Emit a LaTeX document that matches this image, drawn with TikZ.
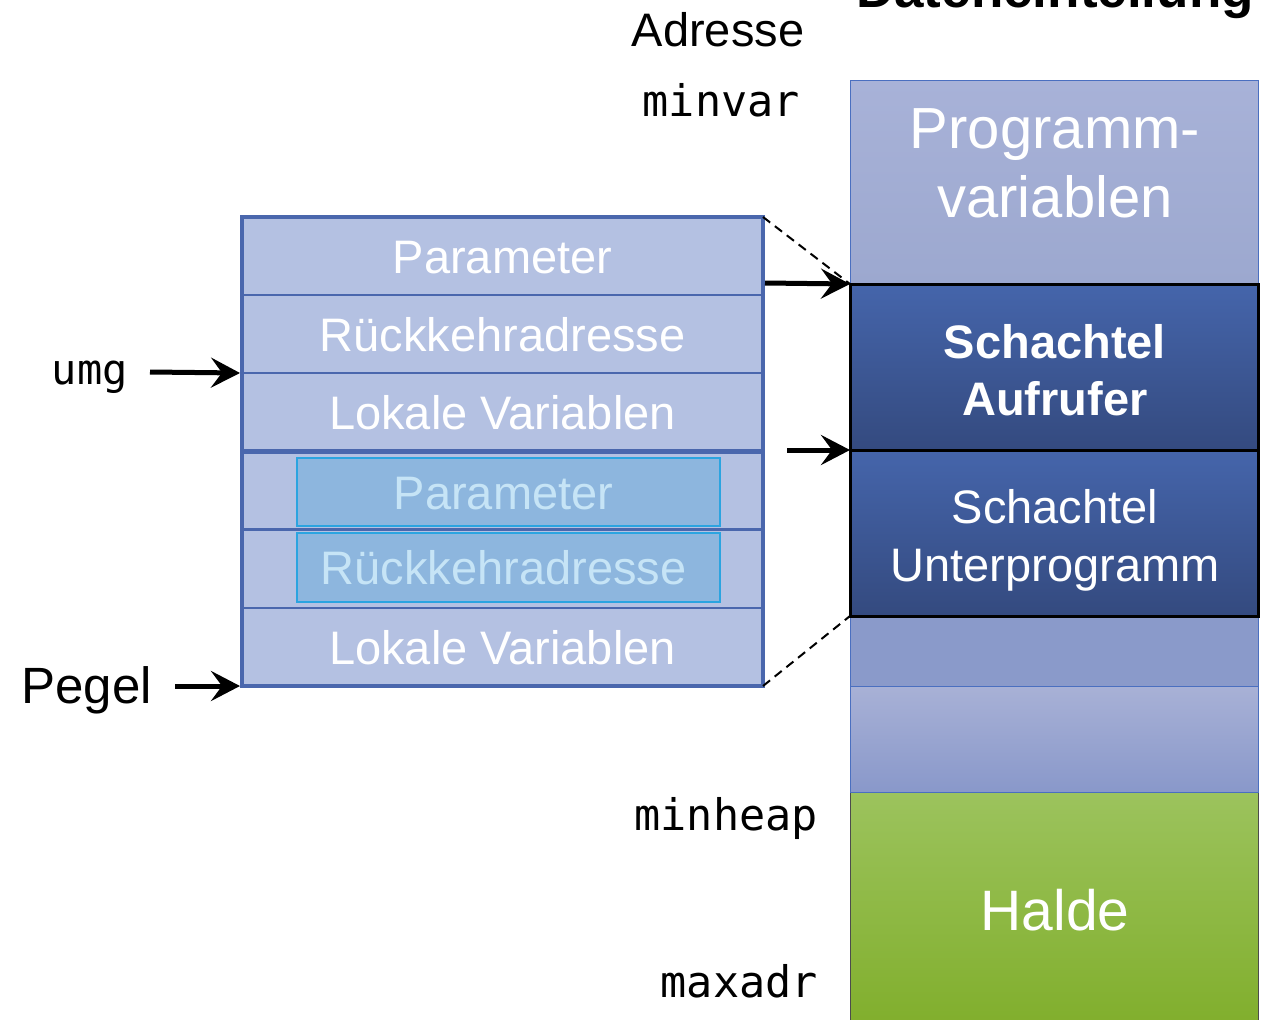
\documentclass[tikz,border=0pt]{standalone}
\usepackage{fontspec}
\setmainfont{Liberation Sans}
\setmonofont{DejaVu Sans Mono}
\usetikzlibrary{arrows.meta}

\definecolor{stackfill}{HTML}{B4C1E2}
\definecolor{stackline}{HTML}{4A67AD}
\definecolor{slotfill}{HTML}{8DB6DE}
\definecolor{slotline}{HTML}{2BA4E0}
\definecolor{slottext}{HTML}{C6E4F6}
\definecolor{boxline}{HTML}{4A6FC0}
\definecolor{pvtop}{HTML}{A8B2D8}
\definecolor{pvbot}{HTML}{9CA8CF}
\definecolor{frametop}{HTML}{4565AB}
\definecolor{framebot}{HTML}{344A7F}
\definecolor{freeone}{HTML}{8A9ACA}
\definecolor{freetop}{HTML}{A8B1D6}
\definecolor{freebot}{HTML}{8998CA}
\definecolor{heaptop}{HTML}{9CC35D}
\definecolor{heapbot}{HTML}{80AE2B}

\begin{document}
\begin{tikzpicture}[x=1pt,y=-1pt,
  cell/.style={draw=stackline, line width=1.5pt, fill=stackfill,
    minimum width=521pt, minimum height=78pt, inner sep=0pt, outer sep=0pt,
    anchor=north west, text=white, font=\fontsize{47}{56}\selectfont,
    text height=34pt, text depth=0pt},
  slot/.style={draw=slotline, line width=2pt, fill=slotfill,
    minimum width=423pt, inner sep=0pt, outer sep=0pt},
  slottxt/.style={inner sep=0pt, text=slottext, font=\fontsize{47}{56}\selectfont,
    text height=34pt, text depth=0pt},
  seg/.style={minimum width=408pt, inner sep=0pt, outer sep=0pt, anchor=north west},
  thinseg/.style={seg, draw=boxline, line width=1pt},
  frameseg/.style={seg, draw=black, line width=3pt, top color=frametop, bottom color=framebot},
  lbl/.style={anchor=base, text=white, inner sep=0pt},
  varname/.style={anchor=base east, inner sep=0pt, font=\ttfamily\fontsize{43.5}{50}\selectfont},
  arr/.style={line width=5pt, -{Stealth[length=29pt,width=30pt,inset=11pt]}},
  link/.style={line width=2pt, dash pattern=on 9pt off 6pt}
]
\clip (0,0) rectangle (1264,1020);

% heading and address labels
\node[anchor=base, inner sep=0pt, font=\bfseries\fontsize{53}{60}\selectfont] (title) at (1055,7) {Dateneinteilung};
\node[anchor=base, inner sep=0pt, font=\fontsize{47}{56}\selectfont] (addr) at (718,46) {Adresse};
\node[varname] (minvar) at (800,116) {minvar};
\node[varname] (minheap) at (818,830) {minheap};
\node[varname] (maxadr) at (818,997) {maxadr};

% memory column
\node[thinseg, draw=black!70, minimum height=240pt, top color=heaptop, bottom color=heapbot] (heap) at (850,792) {};
\node[thinseg, minimum height=106pt, top color=freetop, bottom color=freebot] (free2) at (850,686) {};
\node[thinseg, minimum height=70pt, fill=freeone] (free1) at (850,616) {};
\node[thinseg, minimum height=204pt, top color=pvtop, bottom color=pvbot] (pv) at (850,80) {};
\node[frameseg, minimum height=166pt] (caller) at (850,284) {};
\node[frameseg, minimum height=166pt] (callee) at (850,450) {};

\node[lbl, font=\fontsize{58}{69}\selectfont] (pv1) at (1055,148) {Programm-};
\node[lbl, font=\fontsize{58}{69}\selectfont] (pv2) at (1055,217) {variablen};
\node[lbl, font=\bfseries\fontsize{47}{57}\selectfont] (ca1) at (1055,358) {Schachtel};
\node[lbl, font=\bfseries\fontsize{47}{57}\selectfont] (ca2) at (1055,415) {Aufrufer};
\node[lbl, font=\fontsize{47}{57}\selectfont] (ce1) at (1055,523) {Schachtel};
\node[lbl, font=\fontsize{47}{57}\selectfont] (ce2) at (1055,581) {Unterprogramm};
\node[lbl, font=\fontsize{57}{66}\selectfont] (heaptxt) at (1055,930) {Halde};

% stack frames
\node[cell] (p1) at (242,217) {Parameter};
\node[cell] (r1) at (242,295) {Rückkehradresse};
\node[cell] (l1) at (242,373) {Lokale Variablen};
\node[cell] (p2) at (242,451) {};
\node[cell] (r2) at (242,530) {};
\node[cell] (l2) at (242,608) {Lokale Variablen};
\node[slot, minimum height=68pt] (ps) at (508.5,492) {};
\node[slot, minimum height=69pt] (rs) at (508.5,567.5) {};
\node[slottxt] (pstxt) at ([xshift=-5pt]ps.center) {Parameter};
\node[slottxt] (rstxt) at ([xshift=-5pt]rs.center) {Rückkehradresse};
\draw[stackline, line width=4pt] (p1.north west) rectangle (l2.south east);
\draw[stackline, line width=5pt] (l1.south west) -- (l1.south east);

% pointers
\node[varname, font=\ttfamily\fontsize{42}{50}\selectfont] (umg) at (128,384) {umg};
\node[anchor=base east, inner sep=0pt, font=\fontsize{51}{60}\selectfont] (pegel) at (152,703) {Pegel};
\coordinate (umgtail) at (150,372);
\coordinate (pegeltail) at (175,686);
\coordinate (calltail) at (765,283);
\coordinate (subtail) at (787,450);
\draw[arr] (umgtail) -- ([xshift=-2pt]l1.north west);
\draw[arr] (pegeltail) -- ([xshift=-2pt]l2.south west);
\draw[arr] (calltail) -- (caller.north west);
\draw[arr] (subtail) -- (callee.north west);
\draw[link] (p1.north east) -- (caller.north west);
\draw[link] (l2.south east) -- (callee.south west);
\end{tikzpicture}
\end{document}
